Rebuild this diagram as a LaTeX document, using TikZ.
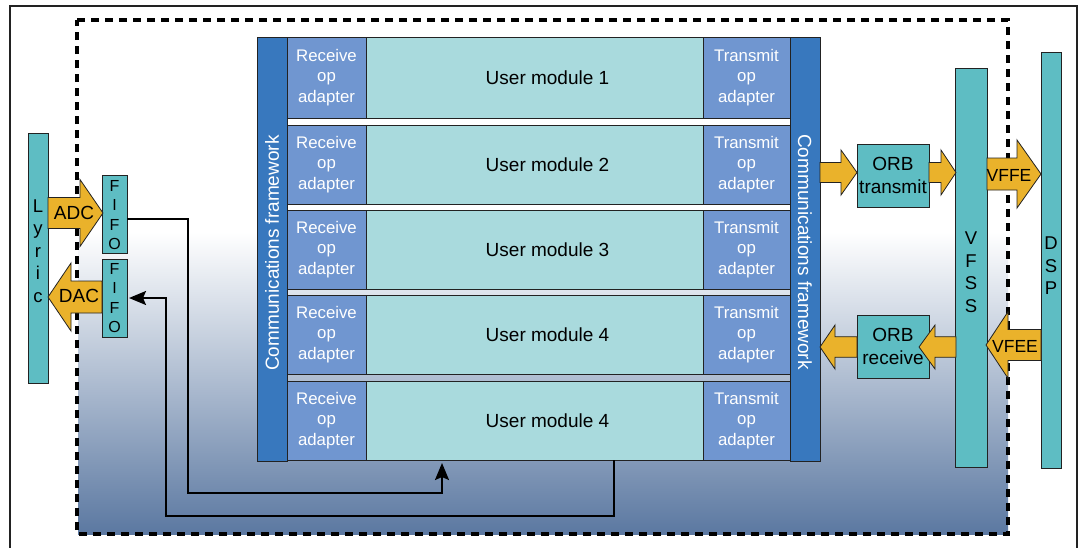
\documentclass[tikz,border=0pt]{standalone}
\usepackage{fontspec}
\setmainfont{Liberation Sans}
\usetikzlibrary{arrows.meta}
\definecolor{cfblue}{HTML}{3878BE}
\definecolor{adblue}{HTML}{7096D0}
\definecolor{umteal}{HTML}{A9DADD}
\definecolor{barteal}{HTML}{5EBDC3}
\definecolor{gold}{HTML}{EAB22B}
\definecolor{gradbot}{HTML}{5B78A1}
\definecolor{edge}{HTML}{222222}
\newcommand{\blockarrow}[6]{%
  \draw[barrow] (#1,#4-#5) -- (#2,#4-#5) -- (#2,#4-#6) -- (#3,#4) -- (#2,#4+#6) -- (#2,#4+#5) -- (#1,#4+#5) -- cycle;}
\begin{document}
\begin{tikzpicture}[x=1pt,y=-1pt,
  box/.style={draw=edge, line width=0.8pt, inner sep=0pt, outer sep=0pt},
  adapter/.style={box, fill=adblue, text=white, align=center, font=\fontsize{16.8}{20.5}\selectfont},
  umod/.style={box, fill=umteal, font=\fontsize{19}{23}\selectfont},
  cfbar/.style={box, fill=cfblue},
  tealbar/.style={box, fill=barteal},
  cftext/.style={text=white, font=\fontsize{19}{23}\selectfont, inner sep=0pt},
  lbl/.style={font=\fontsize{19}{23}\selectfont, align=center, inner sep=0pt},
  stack/.style={font=\fontsize{18.5}{22.5}\selectfont, align=center, inner sep=0pt},
  fifotext/.style={font=\fontsize{16}{19.5}\selectfont, align=center, inner sep=0pt},
  smalllbl/.style={font=\fontsize{17.5}{21}\selectfont, inner sep=0pt},
  barrow/.style={draw=edge, line width=0.8pt, fill=gold},
  conn/.style={line width=2pt, draw=black},
  conntip/.style={-{Stealth[length=17pt,width=14pt,inset=3pt]}},
  dashbound/.style={draw=black, line width=3.2pt, dash pattern={on 8pt off 6pt}},
]
\useasboundingbox (0,0) rectangle (1086,547);
\fill[white] (0,0) rectangle (1086,547);
% outer frame
\draw[line width=1.2pt, edge] (10,548) -- (10,6) -- (1077,6) -- (1077,548);
% gradient background and dashed boundary
\shade[top color=white, bottom color=gradbot] (78,232) rectangle (1008,534);
\draw[dashbound] (77,20) -- (1008,20) -- (1008,534) -- (77,534) -- cycle;

% communications framework bars
\node[cfbar, minimum width=30, minimum height=424] (cfl) at (272,249) {};
\node[cftext, rotate=90] (cflt) at (272,253) {Communications framework};
\node[cfbar, minimum width=30, minimum height=424] (cfr) at (805,249) {};
\node[cftext, rotate=-90] (cfrt) at (805,252) {Communications framework};

% rows
\foreach \i/\t/\b/\n in {1/37/118/1,2/125/204/2,3/210/289/3,4/295/374/4,5/381/460/4}{
  \node[adapter, minimum width=79, minimum height={\b-\t}] (ra\i) at (326.5,{(\t+\b)/2}) {Receive\\op\\adapter};
  \node[umod, minimum width=337, minimum height={\b-\t}] (um\i) at (534.5,{(\t+\b)/2}) {\hspace*{26pt}User module \n};
  \node[adapter, minimum width=87, minimum height={\b-\t}] (ta\i) at (746.5,{(\t+\b)/2}) {Transmit\\op\\adapter};
}

% left side
\node[tealbar, minimum width=20, minimum height=250] (lyric) at (38,258) {};
\node[stack] (lyrict) at (38,251) {L\\y\\r\\i\\c};
\node[tealbar, minimum width=25, minimum height=78] (fifo1) at (114.5,214) {};
\node[fifotext] (fifo1t) at (114.5,215) {F\\I\\F\\O};
\node[tealbar, minimum width=25, minimum height=78] (fifo2) at (114.5,298) {};
\node[fifotext] (fifo2t) at (114.5,298) {F\\I\\F\\O};

\blockarrow{48}{80}{103}{213}{15.5}{33.5}
\node[lbl] (adc) at (74,213) {ADC};
\blockarrow{102}{71}{48}{297}{16}{34}
\node[lbl] (dac) at (79,296) {DAC};

% right side
\node[tealbar, minimum width=32, minimum height=399] (vfss) at (971,267.5) {};
\node[stack] (vfsst) at (971,272) {V\\F\\S\\S};
\node[tealbar, minimum width=20, minimum height=416] (dsp) at (1051,260) {};
\node[stack] (dspt) at (1051,266) {D\\S\\P};

\node[tealbar, minimum width=72, minimum height=63, align=center, font=\fontsize{19}{23}\selectfont] (orbt) at (893,175.5) {ORB\\transmit};
\node[tealbar, minimum width=72, minimum height=63, align=center, font=\fontsize{19}{23}\selectfont] (orbr) at (893,346.5) {ORB\\receive};

\blockarrow{820}{841}{857}{172.5}{10}{22.5}
\blockarrow{929}{941}{956}{172.5}{10}{22.5}
\blockarrow{987}{1017}{1041}{174}{16}{34}
\node[smalllbl] (vffe) at (1009,175) {VFFE};
\blockarrow{1041}{1008}{986}{345}{15.5}{33.3}
\node[smalllbl] (vfee) at (1015,346.5) {VFEE};
\blockarrow{956}{935}{919}{347}{10.3}{22}
\blockarrow{857}{835}{820}{347}{10.3}{22}

% connectors
\draw[conn, conntip] ([yshift=-5pt]fifo1.east) -| (188,493) -| ([xshift=-92.5pt,yshift=-3pt]um5.south);
\draw[conn, conntip] ([xshift=79.5pt]um5.south) |- (166,516) |- ([xshift=2pt]fifo2.east);
\end{tikzpicture}
\end{document}
